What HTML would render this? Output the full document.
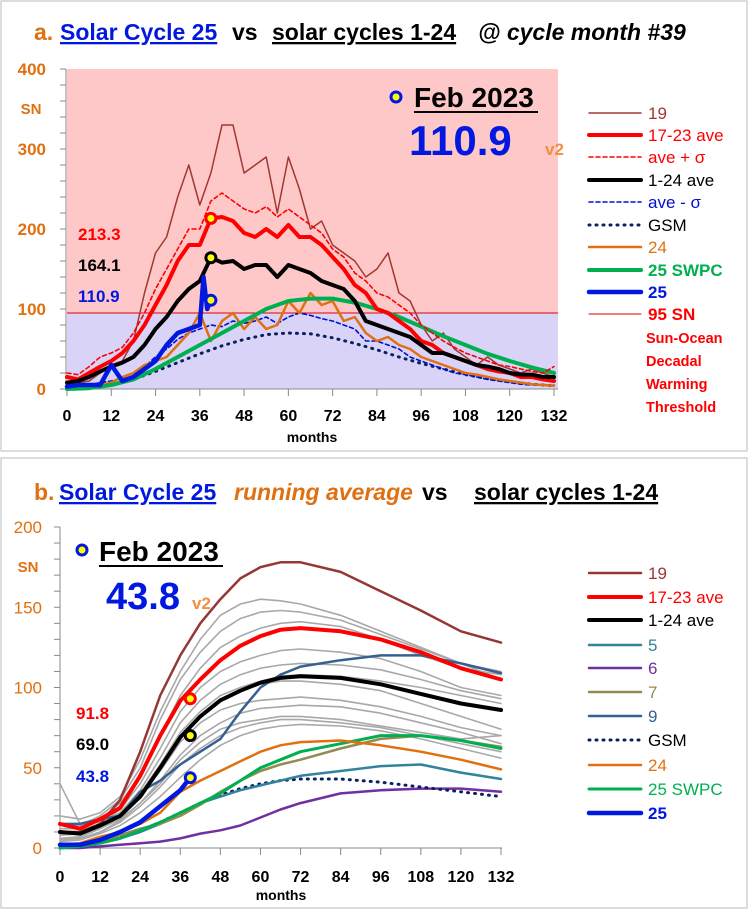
<!DOCTYPE html>
<html><head><meta charset="utf-8">
<style>
body{margin:0;background:#fff;font-family:"Liberation Sans",sans-serif;}
svg{display:block}
svg text{font-family:"Liberation Sans",sans-serif}
</style></head>
<body>
<svg id="chart" width="750" height="910" viewBox="0 0 750 910">
<rect x="1" y="1" width="746" height="450" fill="#fff" stroke="#bbb"/>
<rect x="1" y="458" width="746" height="450" fill="#fff" stroke="#bbb"/>
<g id="a"></g>
<g id="b"></g>
</svg>
<script>
// ===== Panel A data (monthly SN) =====
const aMonths3 = [0,3,6,9,12,15,18,21,24,27,30,33,36,39,42,45,48,51,54,57,60,63,66,69,72,75,78,81,84,87,90,93,96,99,102,105,108,111,114,117,120,123,126,129,132];
const aC19 = [5,8,10,20,30,35,60,120,170,190,240,280,230,270,330,330,270,280,290,220,290,250,200,210,180,170,160,140,150,170,120,110,80,60,70,50,40,30,40,30,25,20,25,20,15];
const aAve1723 = [15,12,20,28,35,45,60,80,105,130,160,180,180,213.3,215,210,195,190,200,190,205,190,190,180,165,150,130,120,100,95,85,75,60,55,45,40,35,30,25,22,20,15,15,12,10];
const aAvePlus = [20,18,28,40,45,52,70,95,125,150,175,200,200,235,245,235,225,220,228,215,225,215,205,195,175,165,145,135,120,115,105,95,80,70,60,52,45,40,35,30,28,25,22,20,28];
const aAve124 = [8,10,15,22,28,33,40,55,75,90,110,125,135,164.1,158,160,150,155,155,140,155,150,145,135,130,125,110,85,80,75,70,65,55,45,45,40,35,30,28,25,20,18,18,15,15];
const aAveMinus = [2,3,5,8,10,14,20,28,40,50,62,70,75,80,78,85,82,85,90,82,90,95,92,88,85,80,75,60,60,55,50,40,35,30,25,20,18,15,12,10,8,6,5,5,5];
const aC24 = [2,2,3,5,8,15,20,30,35,40,55,70,95,60,85,95,75,90,75,80,110,95,120,105,110,85,90,70,60,65,55,50,40,35,30,25,20,18,15,12,10,8,6,5,4];
const aMonths6 = [0,6,12,18,24,30,36,42,48,54,60,66,72,78,84,90,96,102,108,114,120,126,132];
const aGSM = [0,2,5,12,22,33,44,54,62,68,70,69,64,57,49,40,32,25,18,13,9,6,4];
const aSWPC = [0,1,5,12,25,40,55,70,85,100,110,113,113,108,100,90,78,66,55,44,35,27,20];
const aC25Months = [0,3,6,9,12,15,18,21,24,27,30,33,36,37,38,39];
const aC25 = [3,5,5,5,30,10,15,25,35,55,70,75,80,140,100,110.9];
const aThreshold = 95;
const aYTicks = [0,100,200,300,400];
const aXTicks = [0,12,24,36,48,60,72,84,96,108,120,132];

// ===== Panel B data (running average) =====
const bMonths = [0,6,12,18,24,30,36,42,48,54,60,66,72,84,96,108,120,132];
const bGray1 = [20,18,22,32,55,85,110,130,145,152,155,154,152,145,135,125,115,105];
const bGray2 = [15,14,20,30,50,80,105,122,135,143,147,148,147,142,133,124,115,110];
const bGray3 = [12,12,18,28,45,70,95,112,125,132,137,140,141,138,130,120,112,108];
const bGray4 = [10,10,15,24,40,62,85,100,110,116,120,123,124,122,118,110,100,95];
const bGray5 = [8,9,14,22,36,56,78,92,102,108,112,114,115,114,111,105,98,93];
const bGray6 = [40,15,16,22,34,52,72,85,95,100,104,107,108,107,104,100,95,90];
const bGray7 = [6,7,12,20,32,48,66,78,86,90,92,93,94,92,88,82,75,70];
const bGray8 = [5,6,10,17,28,42,58,70,78,84,87,88,89,88,84,78,72,65];
const bGray9 = [5,6,10,16,26,38,52,62,70,75,78,80,80,78,75,70,65,60];
const bGray10 = [4,5,9,14,22,32,44,55,64,70,74,76,77,76,73,68,62,56];
const bGray11 = [8,9,14,22,34,50,68,82,92,98,102,104,104,102,98,90,82,74];
const bGray12 = [6,7,12,18,28,40,55,66,74,78,80,82,82,80,76,72,68,70];
const bC19 = [10,10,15,30,60,95,120,140,155,168,175,178,178,172,160,148,135,128];
const bAve1723 = [15,12,18,25,45,70,91.8,105,117,126,132,136,137,135,130,122,112,105];
const bAve124 = [10,9,14,20,32,50,69,82,92,98,103,106,107,106,102,96,90,86];
const bC5 = [0,1,3,6,10,15,22,28,32,36,39,42,45,48,51,52,47,43];
const bC6 = [0,0,1,2,3,4,6,9,11,14,19,24,28,34,36,37,37,35];
const bC7 = [0,1,3,8,12,15,20,27,35,42,48,52,55,62,68,70,67,63];
const bC9 = [15,15,18,20,35,42,52,60,68,85,100,108,113,117,120,120,115,109];
const bGSM = [0,1,3,7,11,16,22,28,33,37,40,42,43,43,41,38,35,32];
const bC24 = [2,3,7,10,15,22,35,42,48,54,60,64,66,67,64,60,55,49];
const bSWPC = [0,1,3,6,11,16,22,28,34,42,50,55,60,65,70,70,67,62];
const bC25Months = [0,6,12,18,24,30,36,39];
const bC25 = [2,2,5,10,16,26,36,43.8];
const bYTicks = [0,50,100,150,200];
const bXTicks = [0,12,24,36,48,60,72,84,96,108,120,132];

const NS="http://www.w3.org/2000/svg";
function mk(parent,tag,attrs){const e=document.createElementNS(NS,tag);for(const k in attrs)e.setAttribute(k,attrs[k]);parent.appendChild(e);return e;}
function txt(parent,x,y,s,attrs){const t=mk(parent,'text',Object.assign({x:x,y:y},attrs));t.textContent=s;return t;}

function axes(x0,x1,y0,y1,xmax,ymax){
  return {x:m=>x0+(x1-x0)*m/xmax, y:v=>y0-(y0-y1)*v/ymax};
}
function line(g,ax,xs,ys,stroke,w,dash,name){
  const p=xs.map((m,i)=>ax.x(m).toFixed(1)+','+ax.y(ys[i]).toFixed(1)).join(' ');
  const e=mk(g,'polyline',{points:p,fill:'none',stroke:stroke,'stroke-width':w,'stroke-linejoin':'round','stroke-linecap':'round'});
  if(dash)e.setAttribute('stroke-dasharray',dash);
  
  
  return e;
}
function marker(g,ax,m,v,stroke,name){
  const c=mk(g,'circle',{cx:ax.x(m),cy:ax.y(v),r:5,fill:'#ff0',stroke:stroke,'stroke-width':3});
  
  
}

// ===== Panel A =====
(function(){
  const g=document.getElementById('a');
  const ax=axes(67,554,389,69,132,400);
  const bgTop=mk(g,'rect',{x:67,y:69,width:491,height:ax.y(aThreshold)-69,fill:'#ffc8c8'});
  
  
  const bgBot=mk(g,'rect',{x:67,y:ax.y(aThreshold),width:491,height:389-ax.y(aThreshold),fill:'#d9d3f7'});
  
  
  mk(g,'line',{x1:66,y1:69,x2:66,y2:389,stroke:'#888'});
  for(let v=0;v<=400;v+=20){mk(g,'line',{x1:60,y1:ax.y(v),x2:66,y2:ax.y(v),stroke:'#888'});}
  aYTicks.forEach(v=>{const t=txt(g,46,ax.y(v)+6,String(v),{'text-anchor':'end','font-size':17,'font-weight':'bold',fill:'#e07010'});
    
    });
  txt(g,31,114,'SN',{'text-anchor':'middle','font-size':15,'font-weight':'bold',fill:'#e07010',});
  mk(g,'line',{x1:66,y1:389,x2:558,y2:389,stroke:'#888'});
  aXTicks.forEach(m=>{mk(g,'line',{x1:ax.x(m),y1:389,x2:ax.x(m),y2:396,stroke:'#888'});
    const t=txt(g,ax.x(m),421,String(m),{'text-anchor':'middle','font-size':16,'font-weight':'bold',fill:'#000'});
    
    });
  txt(g,312,442,'months',{'text-anchor':'middle','font-size':14,'font-weight':'bold',});
  const th=mk(g,'line',{x1:67,y1:ax.y(aThreshold),x2:558,y2:ax.y(aThreshold),stroke:'#e00000','stroke-width':1});
  
  
  line(g,ax,aMonths6,aGSM,'#0a2060',3,'1 6','gsm-line');
  line(g,ax,aMonths3,aAveMinus,'#0010d0',1.6,'4 3','ave-minus-sigma-line');
  line(g,ax,aMonths3,aC19,'#a03830',1.5,null,'cycle-19-line');
  line(g,ax,aMonths3,aC24,'#e07010',2.5,null,'cycle-24-line');
  line(g,ax,aMonths6,aSWPC,'#00b050',4,null,'swpc-25-line');
  line(g,ax,aMonths3,aAvePlus,'#ff0000',1.6,'4 3','ave-plus-sigma-line');
  line(g,ax,aMonths3,aAve1723,'#ff0000',4,null,'ave-17-23-line');
  line(g,ax,aMonths3,aAve124,'#000',4,null,'ave-1-24-line');
  line(g,ax,aC25Months,aC25,'#0018e0',4.5,null,'cycle-25-line');
  marker(g,ax,39,aAve1723[13],'#ff0000','marker-17-23');
  marker(g,ax,39,aAve124[13],'#000','marker-1-24');
  marker(g,ax,39,aC25[aC25.length-1],'#0018e0','marker-25');
  txt(g,78,240,'213.3',{'font-size':17,'font-weight':'bold',fill:'#ff0000',});
  txt(g,78,271,'164.1',{'font-size':17,'font-weight':'bold',fill:'#000',});
  txt(g,78,302,'110.9',{'font-size':17,'font-weight':'bold',fill:'#0018e0',});
  mk(g,'circle',{cx:396,cy:97,r:5,fill:'#ff0',stroke:'#0018e0','stroke-width':3,});
  txt(g,414,107,'Feb 2023',{'font-size':28,'font-weight':'bold',});
  mk(g,'line',{x1:414,y1:112,x2:538,y2:112,stroke:'#000','stroke-width':2});
  txt(g,409,155,'110.9',{'font-size':42,'font-weight':'bold',fill:'#0018e0',});
  txt(g,545,155,'v2',{'font-size':17,'font-weight':'bold',fill:'#f09040',});
  const L=[['19','#a03830',1.5,null,false,113],['17-23 ave','#ff0000',4,null,false,135],['ave + σ','#ff0000',1.6,'4 3',false,157],['1-24 ave','#000',4,null,false,180],['ave - σ','#0010d0',1.6,'4 3',false,202],['GSM','#0a2060',3,'1 6',false,225],['24','#e07010',2.5,null,false,247],['25 SWPC','#00b050',4,null,true,270],['25','#0018e0',4.5,null,true,292],['95 SN','#e00000',1,null,true,314]];
  const txtCol={'GSM':'#000','1-24 ave':'#000'};
  L.forEach(l=>{
    const gl=mk(g,'g',{});
    
    
    const e=mk(gl,'line',{x1:589,y1:l[5],x2:641,y2:l[5],stroke:l[1],'stroke-width':l[2],'stroke-linecap':'round'});
    if(l[3])e.setAttribute('stroke-dasharray',l[3]);
    txt(gl,648,l[5]+6,l[0],{'font-size':17,'font-weight':l[4]?'bold':'normal',fill:txtCol[l[0]]||(l[0]==='95 SN'?'#ff0000':l[1])});
  });
  ['Sun-Ocean','Decadal','Warming','Threshold'].forEach((s,i)=>{txt(g,646,[343,366,389,412][i],s,{'font-size':14.5,'font-weight':'bold',fill:'#ff0000',});});
  const t=mk(g,'text',{x:34,y:40,'font-size':23,'font-weight':'bold',});
  t.innerHTML='<tspan fill="#e07010">a. </tspan><tspan x="60" fill="#0018e0" text-decoration="underline">Solar Cycle 25</tspan><tspan x="232" fill="#000">vs</tspan><tspan x="272" fill="#000" text-decoration="underline">solar cycles 1-24</tspan><tspan x="478" fill="#000" font-style="italic">@ cycle month #39</tspan>';
})();

// ===== Panel B =====
(function(){
  const g=document.getElementById('b');
  const ax=axes(60,501,848,527,132,200);
  mk(g,'line',{x1:60,y1:527,x2:60,y2:848,stroke:'#888'});
  for(let v=0;v<=200;v+=10){mk(g,'line',{x1:54,y1:ax.y(v),x2:60,y2:ax.y(v),stroke:'#888'});}
  bYTicks.forEach(v=>{const t=txt(g,42,ax.y(v)+6,String(v),{'text-anchor':'end','font-size':17,fill:'#e07010'});
    
    });
  txt(g,28,572,'SN',{'text-anchor':'middle','font-size':15,'font-weight':'bold',fill:'#e07010',});
  mk(g,'line',{x1:60,y1:848,x2:502,y2:848,stroke:'#888'});
  bXTicks.forEach(m=>{mk(g,'line',{x1:ax.x(m),y1:848,x2:ax.x(m),y2:855,stroke:'#888'});
    const t=txt(g,ax.x(m),882,String(m),{'text-anchor':'middle','font-size':16,'font-weight':'bold'});
    
    });
  txt(g,281,900,'months',{'text-anchor':'middle','font-size':14,'font-weight':'bold',});
  [bGray1,bGray2,bGray3,bGray4,bGray5,bGray6,bGray7,bGray8,bGray9,bGray10,bGray11,bGray12].forEach(s=>line(g,ax,bMonths,s,'#a8a8a8',1.6,null,'other-cycle-line'));
  line(g,ax,bMonths,bC6,'#7030a0',2.5,null,'cycle-6-line');
  line(g,ax,bMonths,bGSM,'#0a2060',3,'1 6','gsm-line');
  line(g,ax,bMonths,bC5,'#31849b',2.5,null,'cycle-5-line');
  line(g,ax,bMonths,bC7,'#948a54',2.5,null,'cycle-7-line');
  line(g,ax,bMonths,bSWPC,'#00b050',3,null,'swpc-25-line');
  line(g,ax,bMonths,bC24,'#e07010',2.5,null,'cycle-24-line');
  line(g,ax,bMonths,bC9,'#376092',2.5,null,'cycle-9-line');
  line(g,ax,bMonths,bC19,'#953735',2.5,null,'cycle-19-line');
  line(g,ax,bMonths,bAve1723,'#ff0000',4,null,'ave-17-23-line');
  line(g,ax,bMonths,bAve124,'#000',4,null,'ave-1-24-line');
  line(g,ax,bC25Months,bC25,'#0018e0',4.5,null,'cycle-25-line');
  marker(g,ax,39,93,'#ff0000','marker-17-23');
  marker(g,ax,39,bAve124[6]+1,'#000','marker-1-24');
  marker(g,ax,39,bC25[bC25.length-1],'#0018e0','marker-25');
  txt(g,76,719,'91.8',{'font-size':17,'font-weight':'bold',fill:'#ff0000',});
  txt(g,76,750,'69.0',{'font-size':17,'font-weight':'bold',fill:'#000',});
  txt(g,76,782,'43.8',{'font-size':17,'font-weight':'bold',fill:'#0018e0',});
  mk(g,'circle',{cx:82,cy:550,r:5,fill:'#ff0',stroke:'#0018e0','stroke-width':3,});
  txt(g,99,561,'Feb 2023',{'font-size':28,'font-weight':'bold',});
  mk(g,'line',{x1:99,y1:566,x2:223,y2:566,stroke:'#000','stroke-width':2});
  txt(g,106,609,'43.8',{'font-size':38,'font-weight':'bold',fill:'#0018e0',});
  txt(g,192,609,'v2',{'font-size':17,'font-weight':'bold',fill:'#f09040',});
  const L=[['19','#953735',2.5,null,false,573],['17-23 ave','#ff0000',4,null,false,597],['1-24 ave','#000',4,null,false,620],['5','#31849b',2.5,null,false,645],['6','#7030a0',2.5,null,false,668],['7','#948a54',2.5,null,false,692],['9','#376092',2.5,null,false,716],['GSM','#0a2060',3,'1 6',false,740],['24','#e07010',2.5,null,false,765],['25 SWPC','#00b050',3,null,false,789],['25','#0018e0',4.5,null,true,813]];
  L.forEach(l=>{
    const gl=mk(g,'g',{});
    
    
    const e=mk(gl,'line',{x1:589,y1:l[5],x2:641,y2:l[5],stroke:l[1],'stroke-width':l[2],'stroke-linecap':'round'});
    if(l[3])e.setAttribute('stroke-dasharray',l[3]);
    txt(gl,648,l[5]+6,l[0],{'font-size':17,'font-weight':l[4]?'bold':'normal',fill:(l[0]==='GSM'||l[0]==='1-24 ave')?'#000':l[1]});
  });
  const t=mk(g,'text',{x:34,y:500,'font-size':23,'font-weight':'bold',});
  t.innerHTML='<tspan fill="#e07010">b. </tspan><tspan x="59" fill="#0018e0" text-decoration="underline">Solar Cycle 25</tspan><tspan x="234" fill="#e07010" font-style="italic">running average</tspan><tspan x="422" fill="#000">vs</tspan><tspan x="474" fill="#000" text-decoration="underline">solar cycles 1-24</tspan>';
})();
</script>
</body></html>
